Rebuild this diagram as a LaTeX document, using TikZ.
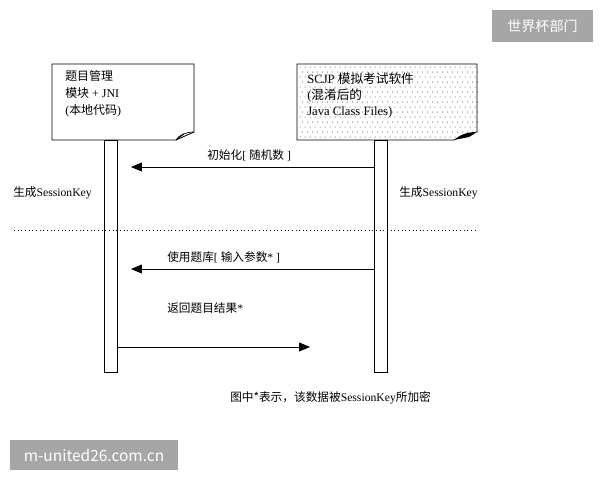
\documentclass[tikz,border=0pt]{standalone}
\usepackage{fontspec}
\setmainfont{Liberation Serif}
\newfontfamily\cjk{Noto Sans CJK SC}
\usetikzlibrary{arrows.meta}

\tikzset{
  lifebar/.style={draw,fill=white,line width=0.6pt,minimum width=3.25mm,minimum height=58mm,inner sep=0pt},
  msg/.style={line width=0.6pt,-{Triangle[length=2.7mm,width=2.2mm]}},
  msgtext/.style={font=\fontsize{8.3}{10}\selectfont,anchor=west,inner sep=0pt},
  boxtext/.style={anchor=north west,align=left,inner sep=0pt}
}

\begin{document}
\begin{tikzpicture}[x=0.025cm,y=-0.025cm]
\useasboundingbox (0,0) rectangle (600,480);

% ---------------- object boxes (folded corner) ----------------
\draw[line width=0.6pt] (52,64) -- (194,64) -- (194,132) -- (176,140) -- (52,140) -- cycle;
\draw[line width=0.5pt] (176,140) .. controls (179,135) and (186,132) .. (194,132);
\draw[line width=0.5pt] (176,140) -- (184,134);

% dotted fill of the right box
\foreach \i in {0,...,35}
  \foreach \j in {0,...,14}
    \fill[black!80] ({300+5*\i+2.5*mod(\j,2)},{67+5*\j}) circle (0.5);
\draw[line width=0.6pt] (297,64) -- (477,64) -- (477,132) -- (454,140) -- (297,140) -- cycle;
\fill[white] (454,140) -- (477,132) -- (477,141) -- cycle;
\fill[black] (454,140) .. controls (461,134) and (468,132) .. (477,132) -- (469,137) -- cycle;

\node[boxtext,font=\fontsize{8.5}{12}\selectfont] (modL) at (65,70)
  {{\cjk 题目管理}\\{\cjk 模块} + JNI\\({\cjk 本地代码})};
\node[boxtext,font=\fontsize{9}{11.5}\selectfont] (modR) at (307,72.5)
  {SCJP {\cjk 模拟考试软件}\\({\cjk 混淆后的}\\Java Class Files)};

% ---------------- lifelines ----------------
\node[lifebar] (lifeL) at (110.5,256) {};
\node[lifebar] (lifeR) at (380.5,256) {};

% ---------------- messages ----------------
\coordinate (tipA) at (131,167);
\coordinate (tipB) at (131,269);
\coordinate (tipC) at (310,347);
\draw[msg] (lifeR.west |- tipA) -- (tipA);
\draw[msg] (lifeR.west |- tipB) -- (tipB);
\draw[msg] (lifeL.east |- tipC) -- (tipC);

\node[msgtext] (initLbl) at (207,155) {{\cjk 初始化}[ {\cjk 随机数} ]};
\node[msgtext] (useLbl) at (167,257) {{\cjk 使用题库}[ {\cjk 输入参数}* ]};
\node[msgtext] (retLbl) at (167,308) {{\cjk 返回题目结果}*};

\node[msgtext] (keyL) at (13,193) {{\cjk 生成}SessionKey};
\node[msgtext] (keyR) at (399,193) {{\cjk 生成}SessionKey};

% ---------------- separator ----------------
\draw[dotted,line width=0.6pt] (14,230) -- (477,230);

% ---------------- note ----------------
\node[msgtext] (note) at (230,398) {{\cjk 图中*表示，该数据被}SessionKey{\cjk 所加密}};

% ---------------- corner marks ----------------
\fill[black!35] (492,10) rectangle (593,42);
\node[text=white,font=\cjk\fontsize{10}{12}\selectfont] (markT) at (542.5,26) {世界杯部门};
\fill[black!35] (10,440) rectangle (178,470);
\node[text=white,font=\cjk\fontsize{11}{13}\selectfont] (markB) at (94,455) {m-united26.com.cn};
\end{tikzpicture}
\end{document}
